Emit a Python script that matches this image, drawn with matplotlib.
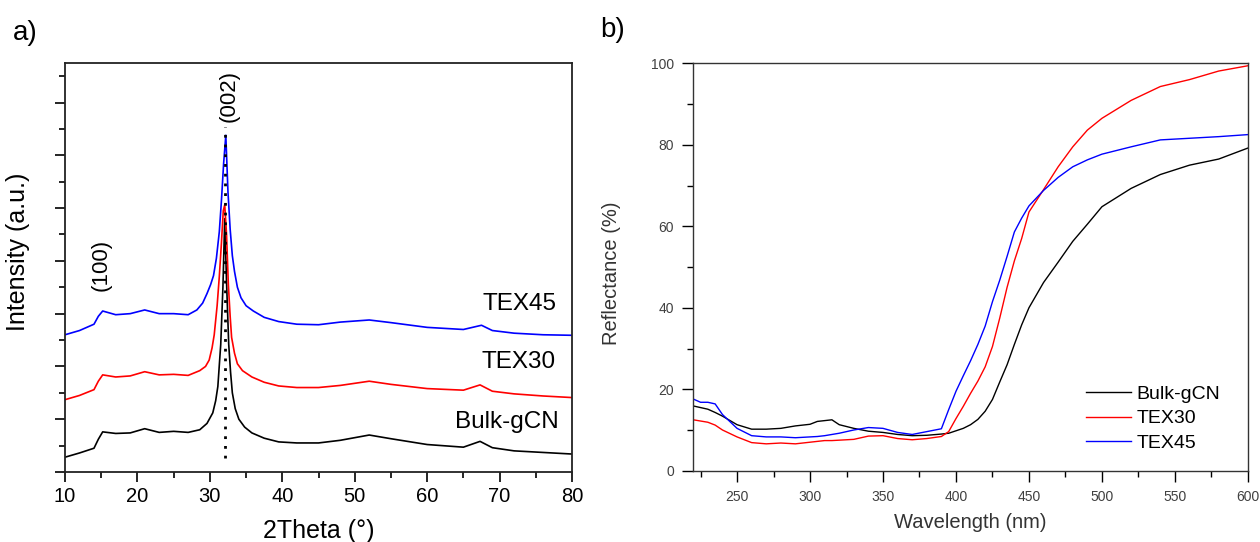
import matplotlib
matplotlib.use("Agg")
import matplotlib.pyplot as plt
from matplotlib.ticker import MultipleLocator

plt.rcParams["font.family"] = ["Liberation Sans", "DejaVu Sans"]

# ---- a) XRD patterns (stacked, arbitrary units) ----
bulk_x = [10, 12, 14, 14.6, 15.2, 17, 19, 21, 23, 25, 27, 28.6, 29.6, 30.4, 30.8, 31.1, 31.5, 31.8,
          32.05, 32.3, 32.6, 32.85, 33.1, 33.5, 34.0, 34.8, 35.8, 37.5, 39.5, 42, 45, 48, 52, 55,
          60, 65, 67.3, 69, 72, 76, 80]
bulk_y = [0.28, 0.36, 0.45, 0.62, 0.76, 0.73, 0.74, 0.82, 0.75, 0.77, 0.75, 0.80, 0.92, 1.12, 1.35,
          1.62, 2.42, 3.5, 4.8, 3.6, 2.42, 1.9, 1.5, 1.2, 1.0, 0.85, 0.74, 0.64, 0.57, 0.55, 0.55,
          0.60, 0.70, 0.63, 0.52, 0.47, 0.58, 0.46, 0.40, 0.37, 0.34]

tex30_x = [10, 12, 14, 14.6, 15.2, 17, 19, 21, 23, 25, 27, 28.6, 29.4, 29.9, 30.3, 30.6, 31.0, 31.3,
           31.6, 31.85, 32.05, 32.3, 32.55, 32.8, 33.0, 33.4, 33.8, 34.5, 35.8, 37.5, 39.5, 42, 45,
           48, 52, 55, 60, 65, 67.3, 69, 72, 76, 80]
tex30_y = [1.37, 1.45, 1.56, 1.72, 1.84, 1.80, 1.82, 1.90, 1.84, 1.85, 1.83, 1.92, 2.0, 2.12, 2.35,
           2.6, 3.15, 3.7, 4.35, 4.95, 5.06, 4.5, 3.55, 2.95, 2.55, 2.25, 2.05, 1.92, 1.8, 1.7, 1.63,
           1.60, 1.60, 1.64, 1.72, 1.66, 1.58, 1.55, 1.65, 1.53, 1.48, 1.44, 1.41]

tex45_x = [10, 12, 14, 14.6, 15.2, 17, 19, 21, 23, 25, 27, 28.2, 29.0, 29.6, 30.1, 30.5, 30.9, 31.3,
           31.6, 31.9, 32.2, 32.5, 32.8, 33.1, 33.4, 33.8, 34.3, 35.0, 36.0, 37.5, 39.5, 42, 45, 48,
           52, 55, 60, 65, 67.5, 69, 72, 76, 80]
tex45_y = [2.60, 2.68, 2.80, 2.95, 3.05, 2.98, 3.0, 3.07, 3.0, 3.0, 2.98, 3.07, 3.2, 3.38, 3.55,
           3.72, 4.05, 4.55, 5.15, 5.85, 6.38, 5.3, 4.6, 4.1, 3.8, 3.5, 3.3, 3.15, 3.05, 2.93, 2.85,
           2.80, 2.79, 2.84, 2.88, 2.83, 2.74, 2.70, 2.78, 2.68, 2.63, 2.60, 2.59]

peak_002 = 32.05
peak_line_y = (0.26, 6.54)
hkl_labels = [("(002)", 32.65, 7.12), ("(100)", 15.05, 3.93)]
sample_labels = [("TEX45", 77.8, 3.18), ("TEX30", 77.8, 2.08), ("Bulk-gCN", 78.2, 0.95)]

# ---- b) diffuse reflectance ----
wl = [220, 225, 230, 235, 240, 250, 260, 270, 280, 290, 300, 305, 310, 315, 320, 330, 340, 350,
      360, 370, 380, 390, 395, 400, 405, 410, 415, 420, 425, 430, 435, 440, 445, 450, 460, 470,
      480, 490, 500, 520, 540, 560, 580, 600]
refl_bulk = [15.9, 15.5, 15.1, 14.3, 13.4, 11.3, 10.2, 10.2, 10.4, 11.0, 11.4, 12.1, 12.3, 12.5,
             11.3, 10.4, 9.7, 9.4, 8.9, 8.6, 8.7, 9.0, 9.2, 9.8, 10.4, 11.3, 12.6, 14.6, 17.5,
             21.8, 26.0, 31.0, 35.8, 40.0, 46.2, 51.2, 56.3, 60.5, 64.8, 69.3, 72.7, 75.0, 76.5,
             79.2]
refl_tex30 = [12.5, 12.2, 11.9, 11.2, 10.0, 8.3, 6.9, 6.6, 6.8, 6.6, 7.0, 7.2, 7.4, 7.4, 7.5,
              7.7, 8.5, 8.6, 7.9, 7.6, 7.9, 8.4, 9.6, 12.8, 15.8, 19.0, 22.0, 25.5, 30.5, 37.5,
              45.0, 51.5, 57.0, 63.5, 69.0, 74.6, 79.5, 83.6, 86.5, 90.9, 94.3, 96.0, 98.1, 99.4]
refl_tex45 = [17.6, 16.8, 16.8, 16.4, 13.8, 10.4, 8.6, 8.3, 8.3, 8.1, 8.3, 8.4, 8.6, 8.9, 9.2,
              10.0, 10.6, 10.4, 9.4, 8.9, 9.6, 10.3, 15.0, 19.5, 23.3, 27.0, 31.0, 35.5, 41.5,
              46.8, 52.6, 58.6, 62.0, 65.0, 68.8, 72.0, 74.6, 76.3, 77.7, 79.5, 81.2, 81.6, 82.0,
              82.5]

fig = plt.figure(figsize=(12.6, 5.42), dpi=100)

# panel a
ax1 = fig.add_axes([0.0516, 0.1292, 0.4024, 0.7546])
ax1.plot(bulk_x, bulk_y, color="black", lw=1.2)
ax1.plot(tex30_x, tex30_y, color="#ff0000", lw=1.2)
ax1.plot(tex45_x, tex45_y, color="#0000ff", lw=1.2)
ax1.plot([peak_002, peak_002], peak_line_y, color="black", lw=2, ls=(0, (1, 2.5)))
for txt, x, y in hkl_labels:
    ax1.text(x, y, txt, rotation=90, ha="center", va="center", fontsize=16)
for txt, x, y in sample_labels:
    ax1.text(x, y, txt, ha="right", va="center", fontsize=17.5)
ax1.set_xlim(10, 80)
ax1.set_ylim(0, 7.75)
ax1.xaxis.set_major_locator(MultipleLocator(10))
ax1.xaxis.set_minor_locator(MultipleLocator(5))
ax1.yaxis.set_major_locator(MultipleLocator(1))
ax1.yaxis.set_minor_locator(MultipleLocator(0.5))
ax1.tick_params(which="both", direction="out", top=False, right=False, width=1.2)
ax1.tick_params(which="major", length=7, labelsize=14.5, pad=4)
ax1.tick_params(which="minor", length=4)
ax1.set_yticklabels([])
for s in ax1.spines.values():
    s.set_linewidth(1.3)
    s.set_color("#222222")
ax1.set_xlabel("2Theta (°)", fontsize=18)
ax1.set_ylabel("Intensity (a.u.)", fontsize=18)
ax1.xaxis.set_label_coords(0.5, -0.115)
ax1.yaxis.set_label_coords(-0.069, 0.538)
fig.text(0.0103, 0.94, "a)", fontsize=20, ha="left", va="center")

# panel b
ax2 = fig.add_axes([0.5502, 0.1315, 0.4402, 0.7517])
ax2.plot(wl, refl_bulk, color="black", lw=1.0, label="Bulk-gCN")
ax2.plot(wl, refl_tex30, color="#ff0000", lw=1.0, label="TEX30")
ax2.plot(wl, refl_tex45, color="#0000ff", lw=1.0, label="TEX45")
ax2.set_xlim(220, 600)
ax2.set_ylim(0, 100)
ax2.xaxis.set_major_locator(MultipleLocator(50))
ax2.xaxis.set_minor_locator(MultipleLocator(25))
ax2.yaxis.set_major_locator(MultipleLocator(20))
ax2.yaxis.set_minor_locator(MultipleLocator(10))
ax2.tick_params(which="both", direction="out", top=False, right=False, width=1.0,
                labelcolor="#404040", labelsize=10)
ax2.tick_params(which="major", length=8, pad=6)
ax2.tick_params(which="minor", length=4)
for s in ax2.spines.values():
    s.set_linewidth(1.0)
    s.set_color("#333333")
ax2.set_xlabel("Wavelength (nm)", fontsize=14.5, color="#333333")
ax2.set_ylabel("Reflectance (%)", fontsize=14.5, color="#333333")
ax2.xaxis.set_label_coords(0.5, -0.104)
ax2.yaxis.set_label_coords(-0.13, 0.485)
ax2.legend(loc="upper left", bbox_to_anchor=(0.708, 0.210), frameon=False, fontsize=14,
           handlelength=2.3, handletextpad=0.3, labelspacing=0.36, borderpad=0,
           borderaxespad=0)
fig.text(0.476, 0.945, "b)", fontsize=20, ha="left", va="center")

fig.savefig("out.png", dpi=100)
